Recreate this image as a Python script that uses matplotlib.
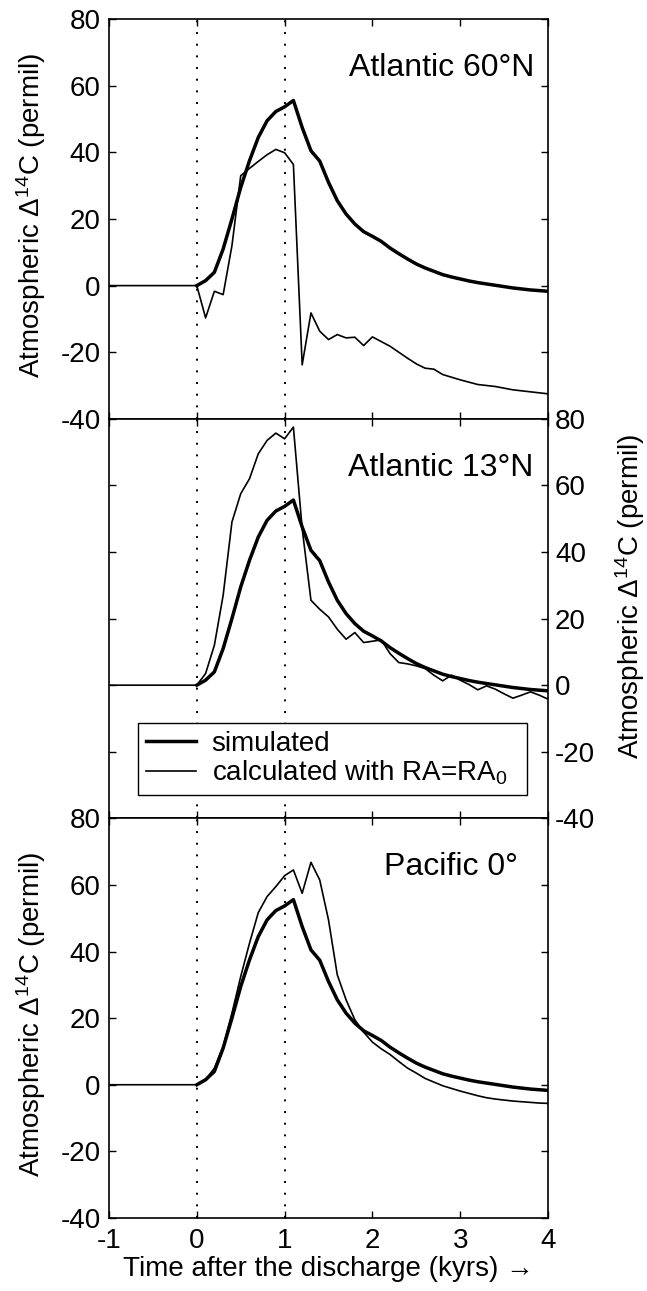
import matplotlib
matplotlib.use("Agg")
import matplotlib.pyplot as plt
import numpy as np

plt.rcParams['font.family'] = ['Liberation Sans', 'DejaVu Sans']
plt.rcParams['mathtext.fontset'] = 'custom'
plt.rcParams['mathtext.rm'] = 'Liberation Sans'
plt.rcParams['mathtext.it'] = 'Liberation Sans:italic'
plt.rcParams['mathtext.bf'] = 'Liberation Sans:bold'
plt.rcParams['axes.unicode_minus'] = False

# --- data ---
# time after the discharge in kyr, first point is the pre-discharge baseline
time = np.concatenate([[-1.0], np.round(np.arange(0, 4.01, 0.1), 1)])

# simulated atmospheric D14C (same in every panel), starts at t = 0
simulated = [np.nan,
             0.0, 1.5, 4.0, 11.0, 20.0, 29.5, 37.5, 44.5, 49.5, 52.3,
             53.7, 55.6, 47.5, 40.5, 37.4, 31.0, 25.5, 21.5, 18.5, 16.2,
             14.8, 13.3, 11.3, 9.6, 8.0, 6.5, 5.3, 4.3, 3.3, 2.6,
             2.0, 1.4, 0.9, 0.5, 0.1, -0.3, -0.7, -1.0, -1.3, -1.5,
             -1.7]

# calculated with RA = RA0
calc_60N = [0.0,
            0.0, -9.7, -1.7, -2.7, 12.0, 33.0, 35.2, 37.3, 39.3, 40.9,
            39.9, 36.4, -23.8, -8.2, -13.7, -16.2, -14.7, -15.7, -15.5, -18.0,
            -15.4, -16.8, -18.2, -20.0, -21.8, -23.5, -24.8, -25.1, -26.7, -27.5,
            -28.3, -29.0, -29.7, -30.0, -30.3, -30.8, -31.3, -31.6, -31.9, -32.2,
            -32.5]

calc_13N = [0.0,
            0.0, 3.5, 12.0, 27.0, 49.0, 57.5, 62.0, 69.5, 73.5, 75.7,
            74.0, 77.5, 47.0, 25.5, 22.8, 20.5, 16.8, 13.8, 15.8, 12.8,
            13.2, 13.6, 9.5, 6.8, 6.4, 5.8, 5.0, 3.0, 1.3, 3.0,
            1.5, 0.2, -1.4, -0.2, -1.2, -2.6, -3.9, -3.0, -2.0, -3.0,
            -4.2]

calc_0 = [0.0,
          0.0, 1.5, 5.0, 11.5, 21.5, 32.5, 42.5, 51.7, 56.5, 59.5,
          62.8, 64.5, 57.5, 66.8, 61.5, 49.5, 33.0, 25.5, 19.5, 15.8,
          12.8, 10.8, 9.1, 7.0, 5.0, 3.5, 1.9, 0.8, -0.3, -1.1,
          -1.9, -2.6, -3.3, -3.9, -4.3, -4.6, -4.9, -5.1, -5.3, -5.5,
          -5.6]

panel_names = ["Atlantic 60\u00b0N", "Atlantic 13\u00b0N", "Pacific 0\u00b0"]
panel_calc = [calc_60N, calc_13N, calc_0]
name_x = [0.970, 0.966, 0.932]

xticks = [-1, 0, 1, 2, 3, 4]
yticks = [-40, -20, 0, 20, 40, 60, 80]
marker_times = [0, 1]

ylab = r'Atmospheric $\Delta^{14}$C (permil)'

# --- figure ---
fig = plt.figure(figsize=(6.47, 12.91), dpi=100)
left, width, height = 0.1685, 0.6785, 0.3095
bottoms = [0.6756, 0.3661, 0.0566]

axes = []
for i in range(3):
    ax = fig.add_axes([left, bottoms[i], width, height])
    axes.append(ax)

    for xv in marker_times:
        ax.axvline(xv, color='black', lw=1.4, linestyle=(0, (1, 5.0)), zorder=1)

    ax.plot(time, panel_calc[i], color='black', lw=1.2, zorder=3,
            label='calculated with RA=RA$_0$')
    ax.plot(time, simulated, color='black', lw=2.5, zorder=4,
            label='simulated')

    ax.set_xlim(-1, 4)
    ax.set_ylim(-40, 80)
    ax.set_xticks(xticks)
    ax.set_yticks(yticks)
    ax.tick_params(direction='in', length=5, width=1.0, top=True, right=True,
                   labelsize=20, pad=7)
    for sp in ax.spines.values():
        sp.set_linewidth(1.2)

    ax.text(name_x[i], 0.858, panel_names[i], transform=ax.transAxes,
            ha='right', va='baseline', fontsize=23)

    if i < 2:
        ax.tick_params(labelbottom=False)

# panel 1 and 3: left labels
for ax in (axes[0], axes[2]):
    ax.set_ylabel(ylab, fontsize=20)
    ax.yaxis.set_label_coords(-0.139, 0.51)
    ax.tick_params(axis='y', pad=6)

# panel 2: right labels
ax = axes[1]
ax.tick_params(axis='y', labelleft=False, labelright=True, pad=5)
ax.yaxis.set_label_position('right')
ax.set_ylabel(ylab, fontsize=20)
ax.yaxis.set_label_coords(1.148, 0.555)

handles, labels = ax.get_legend_handles_labels()
leg = ax.legend(handles[::-1], labels[::-1], loc='lower left',
                bbox_to_anchor=(0.066, 0.0575, 0.886, 0.19), mode='expand',
                borderaxespad=0, fontsize=20, frameon=True, fancybox=False,
                edgecolor='black', framealpha=1, handlelength=1.8,
                handletextpad=0.55, labelspacing=0.05, borderpad=0.3)
leg.get_frame().set_linewidth(1.0)
leg.set_zorder(10)

axes[2].set_xlabel('Time after the discharge (kyrs) \u2192', fontsize=20, labelpad=2)

fig.savefig('out.png', dpi=100)
